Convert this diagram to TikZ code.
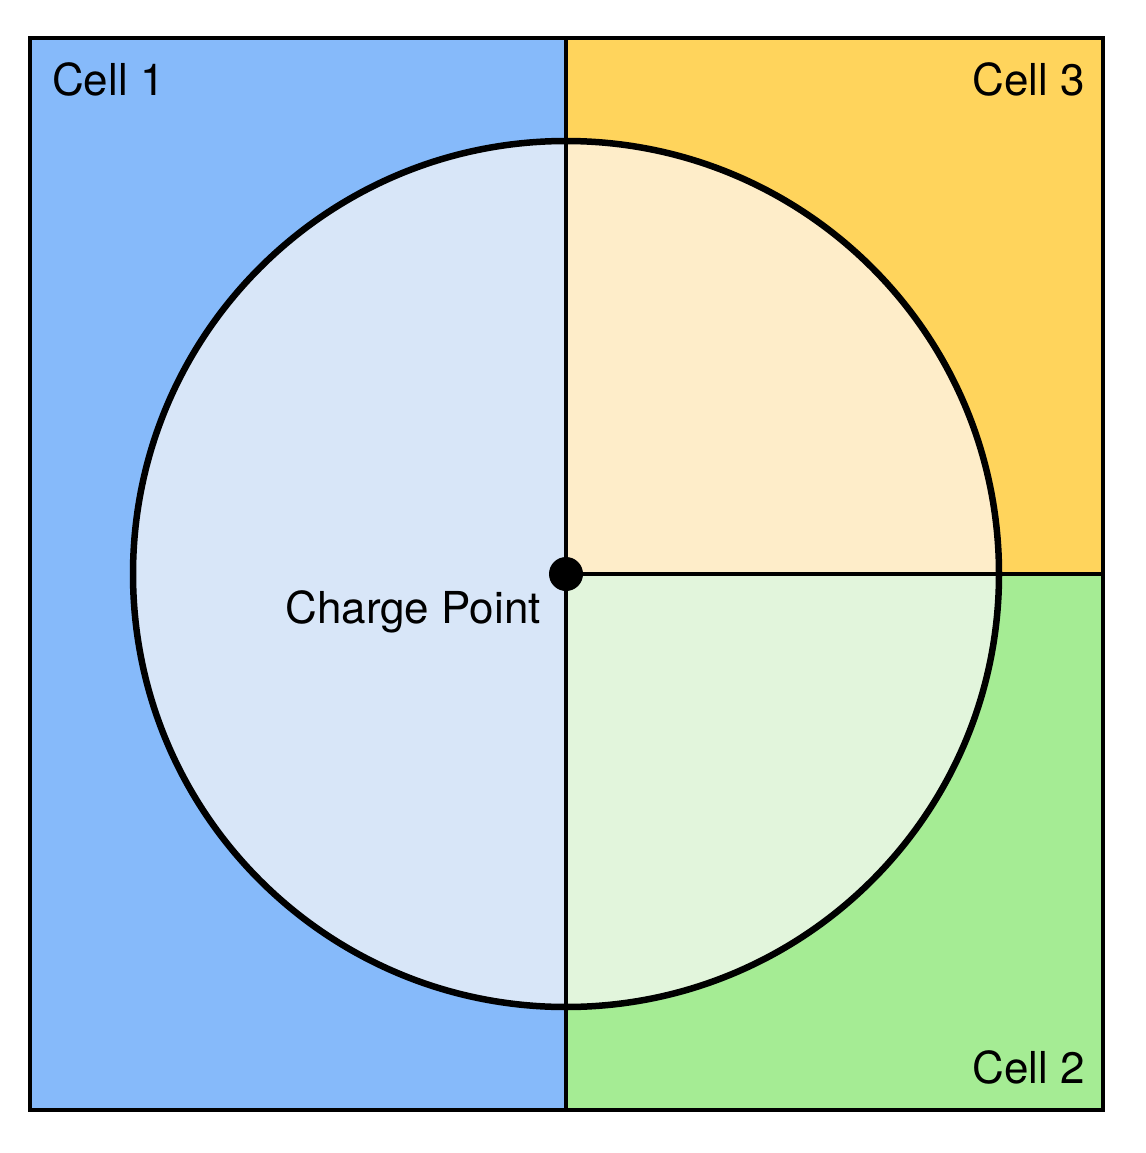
\documentclass[tikz,border=0pt]{standalone}
\usepackage{fontspec}
\setmainfont{TeX Gyre Heros}
\definecolor{cblue}{HTML}{86BAFA}
\definecolor{cyel}{HTML}{FFD45C}
\definecolor{cgrn}{HTML}{A5EC94}
\definecolor{lblue}{HTML}{D8E6F8}
\definecolor{lyel}{HTML}{FEEDC9}
\definecolor{lgrn}{HTML}{E2F5DC}
\begin{document}
\begin{tikzpicture}[x=1pt,y=-1pt,
  lbl/.style={font=\fontsize{44}{52}\selectfont,inner sep=0pt}]
\useasboundingbox (0,0) rectangle (1145,1153);
\fill[cblue] (30,38) rectangle (566,1110);
\fill[cyel] (566,38) rectangle (1103,574);
\fill[cgrn] (566,574) rectangle (1103,1110);
\coordinate (c) at (566,574);
\fill[lblue] (c) -- (566,141) arc[start angle=-90,end angle=-270,radius=433] -- cycle;
\fill[lyel] (c) -- (999,574) arc[start angle=0,end angle=-90,radius=433] -- cycle;
\fill[lgrn] (c) -- (999,574) arc[start angle=0,end angle=90,radius=433] -- cycle;
\draw[line width=3.5pt] (30,38) rectangle (1103,1110);
\draw[line width=3.5pt] (566,38) -- (566,1110);
\draw[line width=3.5pt] (c) -- (1103,574);
\draw[line width=6.5pt] (c) circle[radius=433];
\fill (c) circle[radius=17];
\node[lbl,anchor=base west] (c1) at (52,96) {Cell 1};
\node[lbl,anchor=base east] (c3) at (1085,96) {Cell 3};
\node[lbl,anchor=base east] (c2) at (1085,1083) {Cell 2};
\node[lbl,anchor=base east] (cp) at (541,623) {Charge Point};
\end{tikzpicture}
\end{document}
